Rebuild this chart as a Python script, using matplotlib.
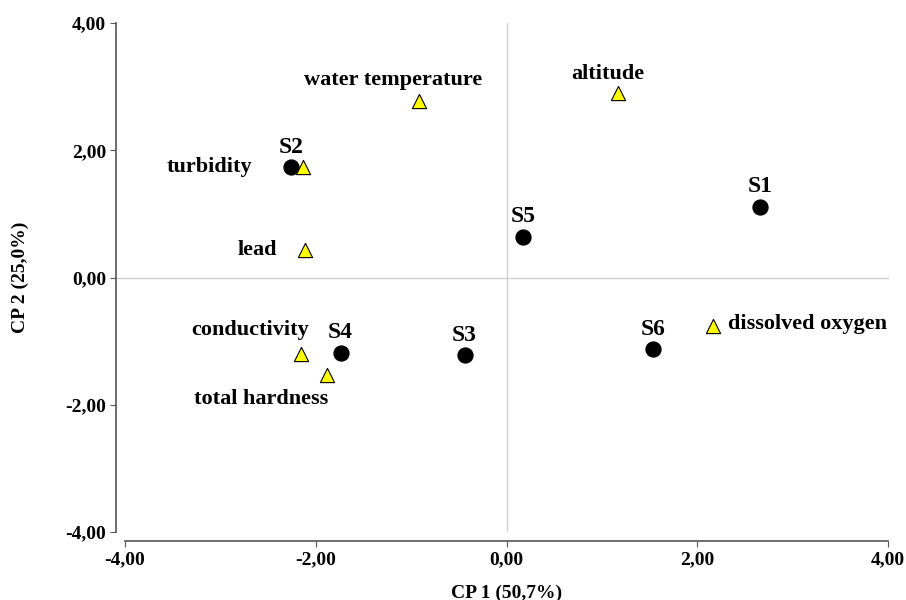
import numpy as np
import matplotlib
matplotlib.use("Agg")
import matplotlib.pyplot as plt

plt.rcParams['font.family'] = ['Liberation Serif', 'DejaVu Serif']
plt.rcParams['font.weight'] = 'bold'

# sampling sites (scores)
sites = ['S1', 'S2', 'S3', 'S4', 'S5', 'S6']
site_x = [2.66, -2.26, -0.44, -1.74, 0.17, 1.54]
site_y = [1.11, 1.73, -1.22, -1.18, 0.64, -1.13]

# variables (loadings)
variables = ['water temperature', 'altitude', 'turbidity', 'lead',
             'conductivity', 'total hardness', 'dissolved oxygen']
var_x = [-0.92, 1.17, -2.13, -2.11, -2.15, -1.88, 2.17]
var_y = [2.78, 2.90, 1.74, 0.44, -1.21, -1.54, -0.77]

ticks = [-4, -2, 0, 2, 4]
tick_labels = ['-4,00', '-2,00', '0,00', '2,00', '4,00']

# label offsets in pixels (dx, dy, ha)
var_offsets = [(-26, 21, 'center'), (-10, 19, 'center'), (-51, 0, 'right'),
               (-28, 0, 'right'), (-51, 24, 'center'), (-66, -24, 'center'),
               (15, 2, 'left')]

fig = plt.figure(figsize=(9.06, 6.0), dpi=100)
ax = fig.add_axes([125 / 906, 1 - 532 / 600, (888 - 125) / 906, (532 - 23) / 600])

ax.set_xlim(-4, 4)
ax.set_ylim(-4, 4)

# reference lines
ax.plot([-4.1, 4], [0, 0], color='#d0d0d0', lw=1, clip_on=False, zorder=1)
ax.axvline(0, color='#d0d0d0', lw=1, zorder=1)

ax.scatter(site_x, site_y, s=115, marker='o', color='black', zorder=3)
ax.scatter(var_x, var_y, s=105, marker='^', facecolor='#ffff00',
           edgecolor='black', linewidth=0.8, zorder=3)

px = 0.72  # pixels -> points at 100 dpi
for name, x, y in zip(sites, site_x, site_y):
    ax.annotate(name, (x, y), xytext=(0, 20 * px), textcoords='offset points',
                ha='center', va='center', fontsize=17, fontweight='bold')

for name, x, y, (dx, dy, ha) in zip(variables, var_x, var_y, var_offsets):
    ax.annotate(name, (x, y), xytext=(dx * px, dy * px), textcoords='offset points',
                ha=ha, va='center', fontsize=16, fontweight='bold')

ax.spines['top'].set_visible(False)
ax.spines['right'].set_visible(False)
ax.spines['left'].set_position(('outward', 6.5))
ax.spines['bottom'].set_position(('outward', 6.5))
for s in ['left', 'bottom']:
    ax.spines[s].set_color('#555555')
    ax.spines[s].set_linewidth(1.2)

ax.set_xticks(ticks)
ax.set_xticklabels(tick_labels)
ax.set_yticks(ticks)
ax.set_yticklabels(tick_labels)
ax.tick_params(length=4, color='#555555', labelsize=14, pad=3)
for lab in ax.get_xticklabels() + ax.get_yticklabels():
    lab.set_fontweight('bold')

ax.set_xlabel('CP 1 (50,7%)', fontsize=14, fontweight='bold', labelpad=12)
ax.set_ylabel('CP 2 (25,0%)', fontsize=14, fontweight='bold', labelpad=26)

fig.savefig('out.png', dpi=100)
